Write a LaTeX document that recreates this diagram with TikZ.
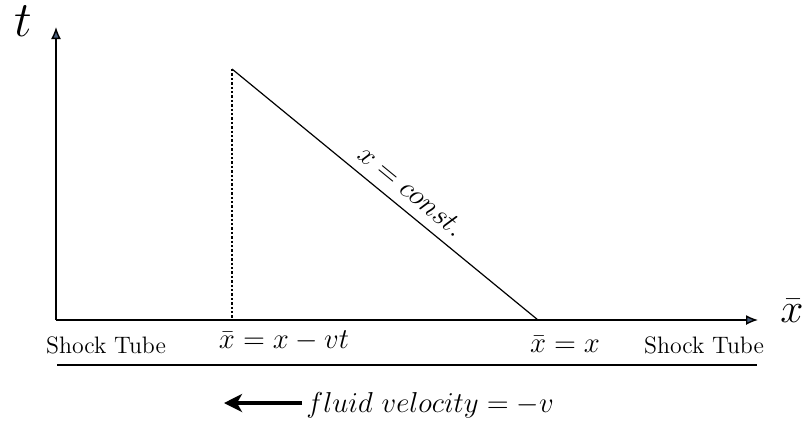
\documentclass[tikz,border=0pt]{standalone}
\usetikzlibrary{arrows.meta}
\definecolor{tipfill}{RGB}{75,95,125}
\begin{document}
\begin{tikzpicture}[x=0.5pt,y=-0.5pt,
  axis/.style={line width=0.7pt,-{Latex[length=6pt,width=5pt,fill=tipfill]}},
  mathlab/.style={font=\fontsize{14}{16}\selectfont,anchor=base,inner sep=0pt},
  textlab/.style={font=\fontsize{11.9}{14}\selectfont,anchor=base,inner sep=0pt},
  flow/.style={line width=2pt,-{Stealth[length=9pt,width=9pt,inset=2.5pt]}}]
\useasboundingbox (0,0) rectangle (806,430);
% axes
\coordinate (O) at (56,320);
\coordinate (T) at (56,27);
\coordinate (X) at (758,320);
\draw[axis] (O) -- (T);
\draw[axis] (O) -- (X);
\node[inner sep=0pt] (tlab) at (23,21) {\fontsize{24.88}{28}\selectfont $t$};
\node[inner sep=0pt] (xlab) at (792,311) {\fontsize{20.74}{24}\selectfont $\bar{x}$};
% characteristic
\coordinate (A) at (232,69);
\coordinate (B) at (232,320);
\coordinate (C) at (538,320);
\draw[dash pattern=on 1.2pt off 1pt,line width=0.7pt] (A) -- (B);
\draw[line width=0.6pt] (A) -- node[pos=0.545,sloped,above=5pt,font=\fontsize{14.5}{16}\selectfont,inner sep=0pt] (lab) {$x=const.$} (C);
% labels under axis
\node[textlab] (st1) at (106,353) {Shock Tube};
\node[mathlab] (l1) at (284,348) {$\bar{x}=x-vt$};
\node[mathlab] (l2) at (565,352) {$\bar{x}=x$};
\node[textlab] (st2) at (704,353) {Shock Tube};
% tube line
\coordinate (L1) at (57,365);
\coordinate (L2) at (757,365);
\draw[line width=0.8pt] (L1) -- (L2);
% flow arrow
\coordinate (F1) at (302,403);
\coordinate (F2) at (224,403);
\draw[flow] (F1) -- (F2);
\node[anchor=west,inner sep=0pt,font=\fontsize{13.8}{16}\selectfont] (fv) at (306,405) {$fluid\ velocity=-v$};
\end{tikzpicture}
\end{document}
